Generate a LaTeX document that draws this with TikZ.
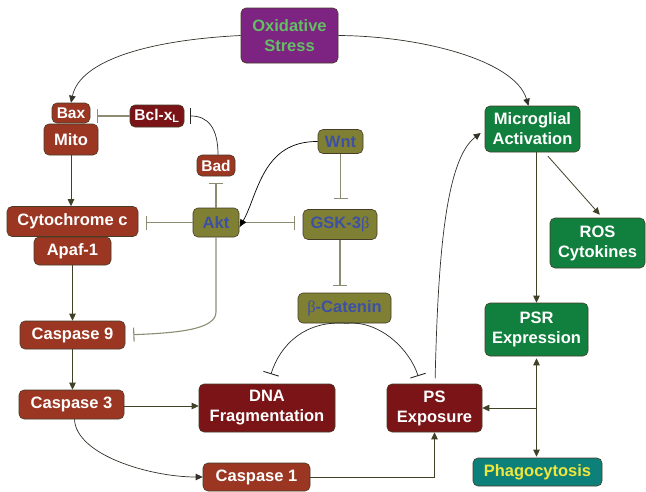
\documentclass[tikz,border=0pt]{standalone}
\usepackage{fontspec}
\setmainfont{Liberation Sans}
\newfontfamily\greekserif{Liberation Serif}
\usetikzlibrary{arrows.meta,calc}
\definecolor{cRed}{RGB}{155,54,34}
\definecolor{cDark}{RGB}{122,20,22}
\definecolor{cOlive}{RGB}{128,128,52}
\definecolor{cBlue}{RGB}{60,80,165}
\definecolor{cPurple}{RGB}{125,35,130}
\definecolor{cLgreen}{RGB}{100,190,100}
\definecolor{cGreen}{RGB}{17,128,62}
\definecolor{cTeal}{RGB}{14,128,122}
\definecolor{cYellow}{RGB}{240,230,60}
\definecolor{cBorder}{RGB}{70,60,40}
\definecolor{cArrow}{RGB}{65,65,40}
\definecolor{cInhib}{RGB}{140,140,115}
\newcommand{\gb}{{\greekserif\mdseries β}}
\begin{document}
\begin{tikzpicture}[x=1pt,y=-1pt,
  box/.style={draw=cBorder, line width=0.6pt, rounded corners=5pt, align=center,
    inner sep=0pt, font=\bfseries\fontsize{16.5}{20}\selectfont},
  smallfont/.style={font=\bfseries\fontsize{15.5}{18}\selectfont},
  redbox/.style={box, fill=cRed, text=white},
  darkbox/.style={box, fill=cDark, text=white},
  olivebox/.style={box, fill=cOlive, text=cBlue},
  greenbox/.style={box, fill=cGreen, text=white},
  purplebox/.style={box, fill=cPurple, text=cLgreen},
  tealbox/.style={box, fill=cTeal, text=cYellow},
  arr/.style={draw=cArrow, line width=0.8pt, -{Triangle[length=7pt,width=6.5pt]}},
  darr/.style={draw=cArrow, line width=0.8pt, {Triangle[length=7pt,width=6.5pt]}-{Triangle[length=7pt,width=6.5pt]}},
  curv/.style={draw=black!85!olive, line width=0.7pt, -{Triangle[length=7pt,width=6.5pt]}},
  inh/.style={draw=cInhib, line width=1.1pt, -{Bar[width=14pt,line width=1.1pt]}},
  cinh/.style={draw=black!85, line width=0.7pt, -{Bar[width=16pt,line width=0.9pt]}},
]
\useasboundingbox (0,0) rectangle (646,491);

% nodes
\node[purplebox, minimum width=97pt, minimum height=55pt] (ox) at (289.5,35.5) {Oxidative\\Stress};
\node[redbox, smallfont, minimum width=38pt, minimum height=20pt] (bax) at (71,113) {Bax};
\node[darkbox, smallfont, minimum width=54pt, minimum height=22pt] (bcl) at (157,116) {Bcl-x\textsubscript{L}};
\node[redbox, minimum width=54pt, minimum height=31pt] (mito) at (71,139.5) {Mito};
\node[redbox, smallfont, minimum width=38pt, minimum height=21pt] (bad) at (216,165.5) {Bad};
\node[redbox, minimum width=131pt, minimum height=30pt] (cyt) at (72.5,221.5) {Cytochrome c};
\node[redbox, minimum width=77pt, minimum height=28pt] (apaf) at (72.5,251) {Apaf-1};
\node[olivebox, minimum width=46pt, minimum height=29pt] (akt) at (216,222.5) {Akt};
\node[olivebox, minimum width=45pt, minimum height=24pt] (wnt) at (340.5,141.5) {Wnt};
\node[olivebox, minimum width=74pt, minimum height=30pt] (gsk) at (340,224.5) {GSK-3\gb};
\node[olivebox, minimum width=93pt, minimum height=30pt] (cat) at (344.5,308) {\gb-Catenin};
\node[greenbox, minimum width=95pt, minimum height=46pt] (mic) at (532.5,129) {Microglial\\Activation};
\node[greenbox, minimum width=95pt, minimum height=50pt] (ros) at (597.5,243) {ROS\\Cytokines};
\node[greenbox, minimum width=103pt, minimum height=53pt] (psr) at (536.5,329.5) {PSR\\Expression};
\node[redbox, minimum width=105pt, minimum height=28pt] (c9) at (72.5,335) {Caspase 9};
\node[redbox, minimum width=105pt, minimum height=29pt] (c3) at (71.5,404.5) {Caspase 3};
\node[darkbox, minimum width=136pt, minimum height=48pt] (dna) at (267,408) {DNA\\Fragmentation};
\node[darkbox, minimum width=95pt, minimum height=48pt] (ps) at (434.5,408) {PS\\Exposure};
\node[redbox, minimum width=107pt, minimum height=28pt] (c1) at (256.5,477) {Caspase 1};
\node[tealbox, minimum width=129pt, minimum height=28pt] (ph) at (537.5,472) {Phagocytosis};

% oxidative stress
\draw[curv] (ox.west) .. controls (150,40) and (80,60) .. (bax.north);
\draw[curv] (ox.east) .. controls (420,36) and (515,60) .. ([xshift=-4pt]mic.north);

% apoptosis chain
\draw[arr] (mito.south) -- (mito.south |- cyt.north);
\draw[arr] (apaf.south) -- (apaf.south |- c9.north);
\draw[arr] (c9.south) -- (c9.south |- c3.north);
\draw[arr] ([yshift=-1.5pt]c3.east) -- ([yshift=-1.5pt]c3.east -| dna.west);
\draw[curv] ([xshift=3pt]c3.south) .. controls (76,455) and (150,477) .. (c1.west);
\draw[arr] (c1.east) -| (ps.south);

% inhibitions
\draw[inh, shorten >=7pt] (bcl.west) -- (bax.east |- bcl.west);
\draw[cinh, shorten >=6pt] ([xshift=2pt]bad.north) .. controls (218,128) and (208,116) .. (bcl.east);
\draw[inh, shorten >=7pt] (akt.north) -- (bad.south);
\draw[inh, shorten >=8pt] (akt.west) -- (akt.west -| cyt.east);
\draw[inh, shorten >=8pt] (akt.east) -- (akt.east -| gsk.west);
\draw[inh, shorten >=10pt] (wnt.south) -- (wnt.south |- gsk.north);
\draw[inh, shorten >=7pt] (gsk.south) -- (gsk.south |- cat.north);
\draw[inh, shorten >=8pt] (akt.south) -- (216,312) .. controls (216,330) and (175,333) .. (c9.east);
\draw[cinh, shorten >=10pt] ([xshift=2pt]cat.south) .. controls (305,320) and (280,345) .. ([xshift=1pt]dna.north);
\draw[cinh, shorten >=8pt] ([xshift=2pt]cat.south) .. controls (380,320) and (410,350) .. ([xshift=-14pt]ps.north);

% Wnt -> Akt
\draw[draw=black, line width=0.7pt, -{Latex[length=8pt,width=7pt]}] (wnt.west) .. controls (262,141) and (258,195) .. ([yshift=-5pt]akt.east);

% microglia
\draw[curv, shorten <=5pt] ([xshift=0.5pt]ps.north) .. controls (438,260) and (445,160) .. ([yshift=-4pt,xshift=-4pt]mic.west);
\draw[arr] (psr.north |- mic.south) -- (psr.north);
\draw[arr, shorten <=5pt, shorten >=4pt] ([xshift=12pt]mic.south) -- ([xshift=5pt]ros.north);
\draw[darr, shorten <=2pt, shorten >=1pt] (psr.south) -- (psr.south |- ph.north);
\draw[arr] (psr.south |- ps.east) -- (ps.east);
\end{tikzpicture}
\end{document}
